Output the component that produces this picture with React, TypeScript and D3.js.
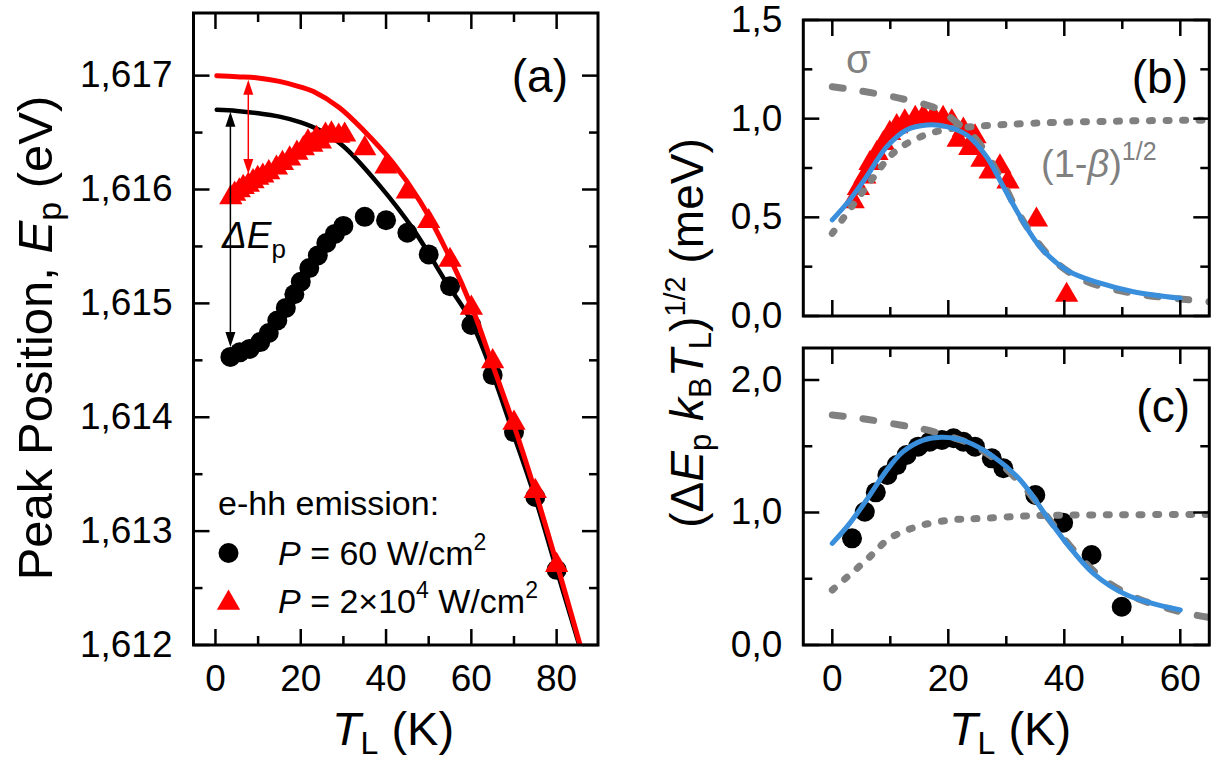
import React from 'react';
import * as d3 from 'd3';

// ---------- Panel (a) data: peak position vs lattice temperature ----------
const aCircT = [3.5, 5.7, 8, 10.5, 12.5, 14.5, 16.5, 18.5, 20, 22, 24, 26, 28, 30, 35, 40, 45, 50, 55, 60, 65, 70, 75, 80];
const aCircE = [1.61453, 1.61457, 1.6146, 1.61466, 1.61474, 1.61485, 1.61496, 1.61508, 1.61519, 1.61531, 1.61542, 1.61553, 1.61561, 1.61568, 1.61576, 1.61573, 1.61562, 1.61543, 1.61515, 1.61481, 1.61437, 1.61387, 1.6133, 1.61266];
const aTriT = [3.6, 4.5, 5.6, 6.5, 7.7, 8.8, 9.9, 11.1, 12.5, 14.3, 15.7, 17.4, 19.1, 20.6, 21.7, 22.6, 23.7, 24.6, 25.8, 27.2, 28.9, 30.3, 35, 40, 45, 50, 55, 60, 65, 70, 75, 80];
const aTriE = [1.61593, 1.61596, 1.61599, 1.61602, 1.61604, 1.61607, 1.6161, 1.61612, 1.61615, 1.61619, 1.61623, 1.61627, 1.61632, 1.61636, 1.61642, 1.61639, 1.61645, 1.61642, 1.61648, 1.61649, 1.61647, 1.61648, 1.61636, 1.6162, 1.61598, 1.61572, 1.61538, 1.61496, 1.61449, 1.61395, 1.61335, 1.6127];
const aRedFitT = [0.3, 5, 10, 15, 20, 23, 29, 34.7, 41.7, 47.9, 54.2, 60.4, 64.8, 69.8, 74.9, 80, 85.5, 87];
const aRedFitE = [1.617, 1.61699, 1.61698, 1.61695, 1.6169, 1.61686, 1.61672, 1.61652, 1.61623, 1.6159, 1.61546, 1.61494, 1.61448, 1.61395, 1.61336, 1.61272, 1.612, 1.6118];
const aBlackFitT = [0.3, 5, 10, 15, 20, 24.5, 30, 38.6, 46.4, 54.2, 59.7, 64.8, 69.8, 74.9, 80, 85.3, 87];
const aBlackFitE = [1.6167, 1.61669, 1.61667, 1.61664, 1.61659, 1.61652, 1.61638, 1.61603, 1.61565, 1.61518, 1.61486, 1.6144, 1.61386, 1.6133, 1.61266, 1.612, 1.6118];
// annotation arrows: [T, upper E, lower E]
const aArrowBlack = [3.5, 1.6167, 1.61453];
const aArrowRed = [7.7, 1.617, 1.61604];

// ---------- Panel (b) data ----------
const bTriT = [3.6, 4.5, 5.6, 6.5, 7.7, 8.8, 9.9, 11.1, 12.5, 14.3, 15.7, 17.4, 19.1, 20.6, 21.7, 22.6, 23.7, 24.6, 25.8, 27.2, 28.9, 30.3, 35.2, 40.4];
const bTriV = [0.58, 0.647, 0.706, 0.774, 0.825, 0.875, 0.926, 0.96, 0.985, 1.002, 1.01, 1.01, 1.002, 0.985, 0.892, 0.943, 0.85, 0.909, 0.79, 0.731, 0.757, 0.68, 0.487, 0.106];
const bSigmaT = [0, 5, 11.7, 18.6, 20.9, 24.9, 28.9, 31.8, 34.7, 38.1, 43.3, 51.9, 60.5, 66];
const bSigmaV = [1.162, 1.14, 1.103, 1.044, 0.993, 0.892, 0.706, 0.537, 0.402, 0.284, 0.182, 0.115, 0.085, 0.07];
const bBetaT = [0, 5.9, 10.5, 14.6, 19.1, 24.3, 34.7, 50, 66];
const bBetaV = [0.419, 0.655, 0.825, 0.9, 0.943, 0.96, 0.977, 0.988, 0.993];
const bFitT = [0, 3, 5.9, 9.4, 12.8, 16.3, 19.7, 23.2, 26.6, 29.5, 32.4, 35.8, 40.4, 46.2, 51.9, 60];
const bFitV = [0.487, 0.588, 0.706, 0.858, 0.943, 0.968, 0.96, 0.917, 0.807, 0.655, 0.503, 0.351, 0.233, 0.166, 0.123, 0.09];

// ---------- Panel (c) data ----------
const cCircT = [3.4, 5.6, 7.5, 9.5, 11.1, 12.8, 14.8, 16.8, 18.9, 20.9, 22.6, 24.6, 27.5, 29.5, 35, 39.8, 44.7, 49.9];
const cCircV = [0.805, 1.006, 1.152, 1.283, 1.358, 1.434, 1.497, 1.534, 1.547, 1.56, 1.534, 1.497, 1.409, 1.334, 1.132, 0.923, 0.679, 0.289];
const cSigmaT = [0, 5, 11.7, 16.3, 20.3, 24.3, 28.9, 33.5, 37.5, 41.6, 46.2, 51.9, 60, 66];
const cSigmaV = [1.736, 1.71, 1.66, 1.623, 1.572, 1.509, 1.371, 1.17, 0.943, 0.717, 0.516, 0.365, 0.251, 0.2];
const cBetaT = [0, 5.9, 9.9, 14.6, 20.3, 26, 34.7, 50, 66];
const cBetaV = [0.415, 0.642, 0.805, 0.893, 0.943, 0.956, 0.976, 0.983, 0.986];
const cFitT = [0, 3, 5.9, 9.4, 12.2, 15.7, 19.1, 23.2, 27.8, 32.4, 37, 40.4, 45, 50.8, 60];
const cFitV = [0.767, 0.918, 1.094, 1.32, 1.459, 1.547, 1.567, 1.534, 1.421, 1.245, 0.968, 0.767, 0.541, 0.377, 0.264];

// ---------- Ticks ----------
const aXMajor = [0, 20, 40, 60, 80];
const aXMinor = [10, 30, 50, 70];
const aYMajor = [1.612, 1.613, 1.614, 1.615, 1.616, 1.617];
const aYMinor = [1.6125, 1.6135, 1.6145, 1.6155, 1.6165];
const bcXMajor = [0, 20, 40, 60];
const bcXMinor = [10, 30, 50];
const bYMajor = [0, 0.5, 1.0, 1.5];
const bYMinor = [0.25, 0.75, 1.25];
const cYMajor = [0, 1, 2];
const cYMinor = [0.5, 1.5];

const FONT = "'Liberation Sans', Arial, Helvetica, sans-serif";
const RED = '#ff0000';
const GRAY = '#808080';
const BLUE = '#3a8fdc';

const zip = (xs: number[], ys: number[]) => xs.map((x, i) => [x, ys[i]] as [number, number]);

function Axes({ sx, sy, xMajor, xMinor, yMajor, yMinor, xLabels, yFmt }: any) {
  const [xl, xr] = sx.range();
  const [yb, yt] = sy.range();
  const M = 16, m = 9;
  const els: any[] = [];
  const tick = (k: string, x1: number, y1: number, x2: number, y2: number) =>
    els.push(<line key={k} x1={x1} y1={y1} x2={x2} y2={y2} stroke="#000" strokeWidth={2.5} />);
  xMajor.forEach((v: number) => { const X = sx(v); tick('xb' + v, X, yb, X, yb - M); tick('xt' + v, X, yt, X, yt + M); });
  xMinor.forEach((v: number) => { const X = sx(v); tick('xbm' + v, X, yb, X, yb - m); tick('xtm' + v, X, yt, X, yt + m); });
  yMajor.forEach((v: number) => { const Y = sy(v); tick('yl' + v, xl, Y, xl + M, Y); tick('yr' + v, xr, Y, xr - M, Y); });
  yMinor.forEach((v: number) => { const Y = sy(v); tick('ylm' + v, xl, Y, xl + m, Y); tick('yrm' + v, xr, Y, xr - m, Y); });
  return (
    <g>
      {els}
      <rect x={xl} y={yt} width={xr - xl} height={yb - yt} fill="none" stroke="#000" strokeWidth={3} />
      {yMajor.map((v: number) => (
        <text key={'yt' + v} x={xl - 21} y={sy(v)} dy="0.32em" textAnchor="end" fontSize={37} fontFamily={FONT}>{yFmt(v)}</text>
      ))}
      {xLabels && xMajor.map((v: number) => (
        <text key={'xl' + v} x={sx(v)} y={yb + 46} textAnchor="middle" fontSize={37} fontFamily={FONT}>{v}</text>
      ))}
    </g>
  );
}

export default function App() {
  // panel (a)
  const sxA = d3.scaleLinear().domain([-5.15, 89.7]).range([193.5, 598]);
  const syA = d3.scaleLinear().domain([1.612, 1.61755]).range([645, 13]);
  // panels (b), (c)
  const sxB = d3.scaleLinear().domain([-5.0, 65.0]).range([803.3, 1209.3]);
  const syB = d3.scaleLinear().domain([0, 1.5]).range([316, 20]);
  const syC = d3.scaleLinear().domain([0, 2.2415]).range([645, 348]);

  const curve = d3.curveCatmullRom.alpha(0.5);
  const lineA = d3.line<[number, number]>().x(d => sxA(d[0])).y(d => syA(d[1])).curve(curve);
  const lineB = d3.line<[number, number]>().x(d => sxB(d[0])).y(d => syB(d[1])).curve(curve);
  const lineC = d3.line<[number, number]>().x(d => sxB(d[0])).y(d => syC(d[1])).curve(curve);

  const tri = d3.symbol(d3.symbolTriangle, 235)() as string;
  const fmt3 = (v: number) => d3.format('.3f')(v).replace('.', ',');
  const fmt1 = (v: number) => d3.format('.1f')(v).replace('.', ',');

  const arrowHead = (x: number, y: number, dir: number, w: number, l: number) =>
    `M${x},${y} L${x - w / 2},${y + dir * l} L${x + w / 2},${y + dir * l} Z`;

  const bx = sxA(aArrowBlack[0]);
  const by1 = syA(aArrowBlack[1]) + 2;
  const by2 = syA(aArrowBlack[2]) - 10;
  const rx = sxA(aArrowRed[0]);
  const ry1 = syA(aArrowRed[1]) + 4;
  const ry2 = syA(aArrowRed[2]) - 11;

  const dashSigma = { stroke: GRAY, strokeWidth: 7, fill: 'none', strokeDasharray: '11 20', strokeLinecap: 'round' as const };
  const dotBeta = { stroke: GRAY, strokeWidth: 7, fill: 'none', strokeDasharray: '3 13.5', strokeLinecap: 'round' as const };

  return (
    <svg width={1217} height={765} style={{ position: 'absolute', left: 0, top: 0, background: '#fff' }} fontFamily={FONT}>
      <defs>
        <clipPath id="clipA"><rect x={193.5} y={13} width={404.5} height={632} /></clipPath>
        <clipPath id="clipB"><rect x={803.3} y={20} width={406} height={296} /></clipPath>
        <clipPath id="clipC"><rect x={803.3} y={348} width={406} height={297} /></clipPath>
      </defs>

      {/* ---------- Panel (a) ---------- */}
      <g clipPath="url(#clipA)">
        {aCircT.map((t, i) => <circle key={'ac' + i} cx={sxA(t)} cy={syA(aCircE[i])} r={10} fill="#000" />)}
        <path d={lineA(zip(aBlackFitT, aBlackFitE)) as string} stroke="#000" strokeWidth={4.5} fill="none" strokeLinecap="round" />
        {aTriT.map((t, i) => <path key={'at' + i} d={tri} transform={`translate(${sxA(t)},${syA(aTriE[i])})`} fill={RED} />)}
        <path d={lineA(zip(aRedFitT, aRedFitE)) as string} stroke={RED} strokeWidth={5} fill="none" strokeLinecap="round" />
      </g>
      {/* arrows */}
      <line x1={bx} x2={bx} y1={by1 + 10} y2={by2 - 10} stroke="#000" strokeWidth={1.5} />
      <path d={arrowHead(bx, by1, 1, 10, 15)} fill="#000" />
      <path d={arrowHead(bx, by2, -1, 10, 15)} fill="#000" />
      <line x1={rx} x2={rx} y1={ry1 + 10} y2={ry2 - 10} stroke={RED} strokeWidth={1.5} />
      <path d={arrowHead(rx, ry1, 1, 10, 15)} fill={RED} />
      <path d={arrowHead(rx, ry2, -1, 10, 15)} fill={RED} />
      <text x={222} y={248} fontSize={37} fontStyle="italic">ΔE<tspan fontSize={26} fontStyle="normal" dy={10}>p</tspan></text>

      <Axes sx={sxA} sy={syA} xMajor={aXMajor} xMinor={aXMinor} yMajor={aYMajor} yMinor={aYMinor} xLabels={true} yFmt={fmt3} />
      <text x={568} y={92} textAnchor="end" fontSize={46}>(a)</text>

      {/* legend */}
      <text x={218} y={515} fontSize={34}>e-hh emission:</text>
      <circle cx={228.5} cy={553} r={10} fill="#000" />
      <text x={278} y={565} fontSize={34}><tspan fontStyle="italic">P</tspan> = 60 W/cm<tspan fontSize={23} dy={-15}>2</tspan></text>
      <path d={tri} transform="translate(228.5,603)" fill={RED} />
      <text x={278} y={613} fontSize={34}><tspan fontStyle="italic">P</tspan> = 2×10<tspan fontSize={23} dy={-15}>4</tspan><tspan dy={15}> W/cm</tspan><tspan fontSize={23} dy={-15}>2</tspan></text>

      {/* axis titles (a) */}
      <text x={393} y={745} textAnchor="middle" fontSize={47}><tspan fontStyle="italic">T</tspan><tspan fontSize={32} dy={9}>L</tspan><tspan dy={-9}> (K)</tspan></text>
      <text transform="translate(52,338) rotate(-90)" textAnchor="middle" fontSize={49}>Peak Position, <tspan fontStyle="italic">E</tspan><tspan fontSize={34} dy={9}>p</tspan><tspan dy={-9}> (eV)</tspan></text>

      {/* ---------- Panel (b) ---------- */}
      <g clipPath="url(#clipB)">
        {bTriT.map((t, i) => <path key={'bt' + i} d={tri} transform={`translate(${sxB(t)},${syB(bTriV[i])})`} fill={RED} />)}
        <path d={lineB(zip(bBetaT, bBetaV)) as string} {...dotBeta} />
        <path d={lineB(zip(bSigmaT, bSigmaV)) as string} {...dashSigma} />
        <path d={lineB(zip(bFitT, bFitV)) as string} stroke={BLUE} strokeWidth={5} fill="none" strokeLinecap="round" />
      </g>
      <Axes sx={sxB} sy={syB} xMajor={bcXMajor} xMinor={bcXMinor} yMajor={bYMajor} yMinor={bYMinor} xLabels={false} yFmt={fmt1} />
      <text x={1188} y={93} textAnchor="end" fontSize={46}>(b)</text>
      <text x={846} y={73} fontSize={40} fill={GRAY}>σ</text>
      <text x={1041} y={177} fontSize={38} fill={GRAY}>(1-<tspan fontStyle="italic">β</tspan>)<tspan fontSize={25} dy={-17}>1/2</tspan></text>

      {/* ---------- Panel (c) ---------- */}
      <g clipPath="url(#clipC)">
        {cCircT.map((t, i) => <circle key={'cc' + i} cx={sxB(t)} cy={syC(cCircV[i])} r={10} fill="#000" />)}
        <path d={lineC(zip(cBetaT, cBetaV)) as string} {...dotBeta} />
        <path d={lineC(zip(cSigmaT, cSigmaV)) as string} {...dashSigma} />
        <path d={lineC(zip(cFitT, cFitV)) as string} stroke={BLUE} strokeWidth={5} fill="none" strokeLinecap="round" />
      </g>
      <Axes sx={sxB} sy={syC} xMajor={bcXMajor} xMinor={bcXMinor} yMajor={cYMajor} yMinor={cYMinor} xLabels={true} yFmt={fmt1} />
      <text x={1190} y={422} textAnchor="end" fontSize={46}>(c)</text>

      {/* axis titles (b, c) */}
      <text x={1010} y={745} textAnchor="middle" fontSize={47}><tspan fontStyle="italic">T</tspan><tspan fontSize={32} dy={9}>L</tspan><tspan dy={-9}> (K)</tspan></text>
      <text transform="translate(703,333) rotate(-90)" textAnchor="middle" fontSize={46}>(Δ<tspan fontStyle="italic">E</tspan><tspan fontSize={31} dy={8}>p</tspan><tspan dy={-8}> </tspan><tspan fontStyle="italic">k</tspan><tspan fontSize={31} dy={8}>B</tspan><tspan fontStyle="italic" dy={-8}>T</tspan><tspan fontSize={31} dy={8}>L</tspan><tspan dy={-8}>)</tspan><tspan fontSize={29} dy={-18}>1/2</tspan><tspan dy={18}> (meV)</tspan></text>
    </svg>
  );
}
